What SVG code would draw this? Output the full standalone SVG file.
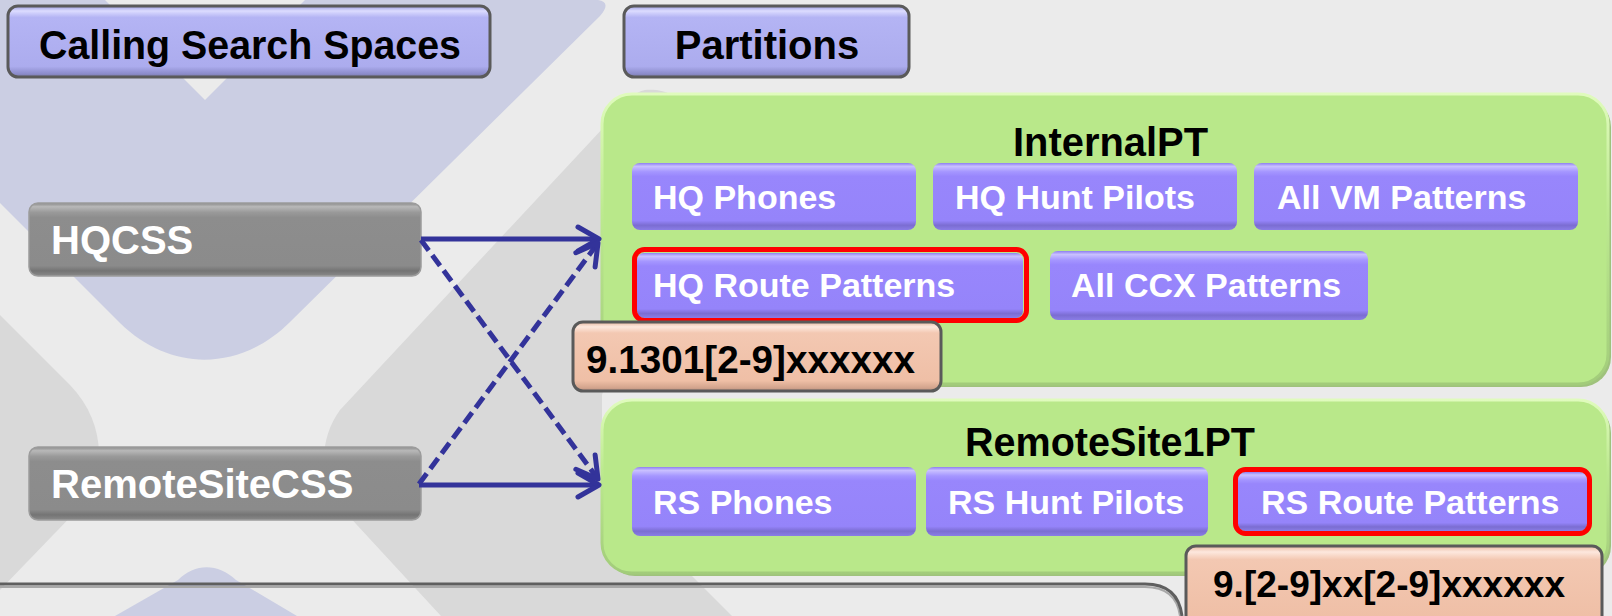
<svg xmlns="http://www.w3.org/2000/svg" width="1612" height="616" viewBox="0 0 1612 616">
<style>
.t{font-family:"Liberation Sans",Arial,sans-serif;font-weight:bold}
.w{fill:#ffffff;font-size:34px}
.k{fill:#000000;font-size:40px}
.pb{fill:url(#gPurple)}
.gb{fill:url(#gGray);stroke:#9c9c9c;stroke-width:1.5}
.hb{fill:url(#gHead);stroke:#5a5a5a;stroke-width:3}
.ob{fill:url(#gOrange);stroke:#5a5a5a;stroke-width:3}
.grn{fill:#b9e88a;stroke:url(#gGreenS);stroke-width:3}
.grs{fill:#9fc27c}
.red{fill:none;stroke:#ff0000;stroke-width:5}
.conn{fill:none;stroke:#33339a;stroke-width:5}
.dash{stroke-dasharray:13 6}
</style>
<defs>
<linearGradient id="gPurple" x1="0" y1="0" x2="0" y2="1">
<stop offset="0" stop-color="#8e7ff0"/>
<stop offset="0.05" stop-color="#c9c0ff"/>
<stop offset="0.13" stop-color="#a596ff"/>
<stop offset="0.2" stop-color="#9886fc"/>
<stop offset="0.86" stop-color="#9584fa"/>
<stop offset="0.93" stop-color="#7b6dd2"/>
<stop offset="1" stop-color="#8a7de6"/>
</linearGradient>
<linearGradient id="gGray" x1="0" y1="0" x2="0" y2="1">
<stop offset="0" stop-color="#8a8a8a"/>
<stop offset="0.05" stop-color="#b8b8b8"/>
<stop offset="0.13" stop-color="#999999"/>
<stop offset="0.2" stop-color="#8d8d8d"/>
<stop offset="0.86" stop-color="#8b8b8b"/>
<stop offset="0.93" stop-color="#747474"/>
<stop offset="1" stop-color="#8a8a8a"/>
</linearGradient>
<linearGradient id="gHead" x1="0" y1="0" x2="0" y2="1">
<stop offset="0" stop-color="#9c9ce0"/>
<stop offset="0.07" stop-color="#dcdcff"/>
<stop offset="0.16" stop-color="#b4b4f4"/>
<stop offset="0.85" stop-color="#acacee"/>
<stop offset="0.95" stop-color="#8d8dcc"/>
<stop offset="1" stop-color="#7a7aa8"/>
</linearGradient>
<linearGradient id="gOrange" x1="0" y1="0" x2="0" y2="1">
<stop offset="0" stop-color="#e8b8a0"/>
<stop offset="0.07" stop-color="#fde8de"/>
<stop offset="0.16" stop-color="#f3c8b2"/>
<stop offset="0.85" stop-color="#efbfa6"/>
<stop offset="0.95" stop-color="#d4a58e"/>
<stop offset="1" stop-color="#b89080"/>
</linearGradient>
<linearGradient id="gGreenS" x1="0" y1="0" x2="0" y2="1">
<stop offset="0" stop-color="#e0fbbd"/>
<stop offset="0.4" stop-color="#bdea90"/>
<stop offset="1" stop-color="#a2cc7a"/>
</linearGradient>
<marker id="ah" markerUnits="userSpaceOnUse" viewBox="-28 -18 32 36" markerWidth="32" markerHeight="36" refX="0" refY="0" orient="auto" overflow="visible">
<path d="M-21,-12 L0,0 L-21,12" fill="none" stroke="#33339a" stroke-width="5" stroke-dasharray="none" stroke-linecap="round" stroke-linejoin="round"/>
</marker>
</defs>

<g id="background">
<rect x="0" y="0" width="1612" height="616" fill="#ebebeb"/>
<path d="M0,0 H105 L205,100 L305,0 H598 Q612,2 600,16 L290,322 C240,372 170,372 120,323 L0,203 Z" fill="#cbcee3"/>
<path d="M0,315 L70,385 C104,420 108,470 82,505 L0,590 Z" fill="#d9d9d9"/>
<path d="M645,90 C668,88 690,100 680,122 L602,395 L602,486 L732,616 L441,616 L345,512 C318,483 318,440 340,410 L618,112 C628,100 635,92 645,90 Z" fill="#d9d9d9"/>
<path d="M115,616 L178,580 C195,563 218,563 236,580 L297,616 Z" fill="#cbcee3"/>
<path d="M0,587 H1145 Q1176,587 1180,616" fill="none" stroke="#a8a8a8" stroke-width="2"/>
<path d="M0,584 H1145 Q1178,584 1182,616" fill="none" stroke="#5f5f5f" stroke-width="3"/>
</g>

<g id="hdr-css">
<rect class="hb" x="8" y="6" width="482" height="71" rx="10"/>
<text class="t k" x="39" y="59" textLength="422" lengthAdjust="spacingAndGlyphs">Calling Search Spaces</text>
</g>
<g id="hdr-partitions">
<rect class="hb" x="624" y="6" width="285" height="71" rx="10"/>
<text class="t k" x="767" y="59" text-anchor="middle">Partitions</text>
</g>

<g id="hqcss">
<rect class="gb" x="29" y="203" width="392" height="73" rx="9"/>
<text class="t" x="51" y="254" fill="#fff" font-size="40">HQCSS</text>
</g>
<g id="remotesitecss">
<rect class="gb" x="29" y="447" width="392" height="73" rx="9"/>
<text class="t" x="51" y="498" fill="#fff" font-size="40">RemoteSiteCSS</text>
</g>

<g id="internalpt">
<rect class="grs" x="605" y="97" width="1006" height="290" rx="30"/>
<rect class="grn" x="602" y="94" width="1006" height="290" rx="30"/>
<text class="t k" x="1013" y="156" textLength="195" lengthAdjust="spacingAndGlyphs">InternalPT</text>
</g>
<g id="hq-phones">
<rect class="pb" x="632" y="163" width="284" height="67" rx="8"/>
<text class="t w" x="653" y="209">HQ Phones</text>
</g>
<g id="hq-hunt-pilots">
<rect class="pb" x="933" y="163" width="304" height="67" rx="8"/>
<text class="t w" x="955" y="209">HQ Hunt Pilots</text>
</g>
<g id="all-vm-patterns">
<rect class="pb" x="1254" y="163" width="324" height="67" rx="8"/>
<text class="t w" x="1277" y="209">All VM Patterns</text>
</g>
<g id="hq-route-patterns">
<rect class="pb" x="637" y="253" width="386" height="65" rx="7"/>
<rect class="red" x="634.5" y="249.5" width="392" height="71" rx="10"/>
<text class="t w" x="653" y="297">HQ Route Patterns</text>
</g>
<g id="all-ccx-patterns">
<rect class="pb" x="1050" y="251" width="318" height="69" rx="8"/>
<text class="t w" x="1071" y="297">All CCX Patterns</text>
</g>
<g id="hq-pattern">
<rect class="ob" x="573" y="322" width="368" height="69" rx="10"/>
<text class="t" x="586" y="373" font-size="38" fill="#000" textLength="329" lengthAdjust="spacingAndGlyphs">9.1301[2-9]xxxxxx</text>
</g>

<g id="remotesite1pt">
<rect class="grs" x="605" y="403" width="1006" height="173" rx="30"/>
<rect class="grn" x="602" y="400" width="1006" height="173" rx="30"/>
<text class="t k" x="965" y="456" textLength="290" lengthAdjust="spacingAndGlyphs">RemoteSite1PT</text>
</g>
<g id="rs-phones">
<rect class="pb" x="632" y="467" width="284" height="69" rx="8"/>
<text class="t w" x="653" y="514">RS Phones</text>
</g>
<g id="rs-hunt-pilots">
<rect class="pb" x="926" y="467" width="282" height="69" rx="8"/>
<text class="t w" x="948" y="514">RS Hunt Pilots</text>
</g>
<g id="rs-route-patterns">
<rect class="pb" x="1238" y="472" width="349" height="59" rx="7"/>
<rect class="red" x="1235.5" y="469.5" width="354" height="64" rx="10"/>
<text class="t w" x="1261" y="514">RS Route Patterns</text>
</g>
<g id="rs-pattern">
<rect class="ob" x="1186" y="546" width="416" height="85" rx="10"/>
<text class="t" x="1213" y="597" font-size="37" fill="#000" textLength="352" lengthAdjust="spacingAndGlyphs">9.[2-9]xx[2-9]xxxxxx</text>
</g>

<g id="connectors">
<path class="conn" d="M421,239 L599,239" marker-end="url(#ah)"/>
<path class="conn" d="M419,485 L599,485" marker-end="url(#ah)"/>
<path class="conn dash" d="M421,240 L598,479" marker-end="url(#ah)"/>
<path class="conn dash" d="M419,484 L598,243" marker-end="url(#ah)"/>
</g>
</svg>
